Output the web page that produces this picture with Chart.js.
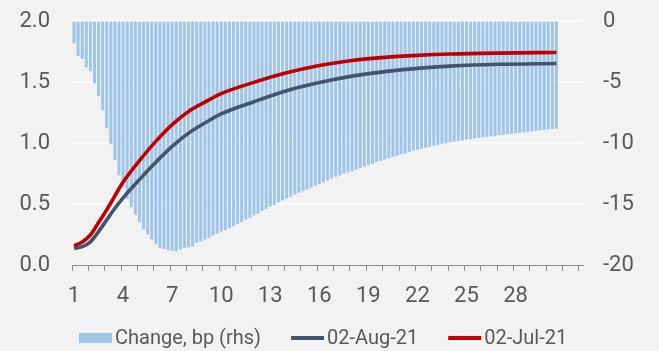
<!DOCTYPE html>
<html>
<head>
<meta charset="utf-8">
<script src="https://cdn.jsdelivr.net/npm/chart.js@4/dist/chart.umd.min.js"></script>
<style>
  html, body { margin: 0; padding: 0; background: #f2f2f2; }
  canvas { display: block; }
</style>
</head>
<body>
<canvas id="curve" width="659" height="351"></canvas>
<script>
// Maturities (years), quarterly steps
const maturity = [
  1, 1.25, 1.5, 1.75, 2, 2.25, 2.5, 2.75, 3, 3.25, 3.5, 3.75,
  4, 4.25, 4.5, 4.75, 5, 5.25, 5.5, 5.75, 6, 6.25, 6.5, 6.75,
  7, 7.25, 7.5, 7.75, 8, 8.25, 8.5, 8.75, 9, 9.25, 9.5, 9.75,
  10, 10.25, 10.5, 10.75, 11, 11.25, 11.5, 11.75, 12, 12.25, 12.5, 12.75,
  13, 13.25, 13.5, 13.75, 14, 14.25, 14.5, 14.75, 15, 15.25, 15.5, 15.75,
  16, 16.25, 16.5, 16.75, 17, 17.25, 17.5, 17.75, 18, 18.25, 18.5, 18.75,
  19, 19.25, 19.5, 19.75, 20, 20.25, 20.5, 20.75, 21, 21.25, 21.5, 21.75,
  22, 22.25, 22.5, 22.75, 23, 23.25, 23.5, 23.75, 24, 24.25, 24.5, 24.75,
  25, 25.25, 25.5, 25.75, 26, 26.25, 26.5, 26.75, 27, 27.25, 27.5, 27.75,
  28, 28.25, 28.5, 28.75, 29, 29.25, 29.5, 29.75, 30, 30.25, 30.5
];

// Change between the two curves, bp (right axis)
const changeBp = [
  -1.84, -2.88, -3.10, -3.79, -4.11, -5.12, -6.16, -7.31, -8.78, -10.10, -11.40, -12.64,
  -13.67, -14.58, -15.26, -15.89, -16.49, -17.09, -17.50, -17.90, -18.27, -18.60, -18.68, -18.80,
  -18.84, -18.87, -18.73, -18.62, -18.54, -18.46, -18.18, -18.07, -17.90, -17.77, -17.55, -17.44,
  -17.25, -17.15, -16.98, -16.82, -16.62, -16.49, -16.27, -16.13, -15.94, -15.80, -15.56, -15.40,
  -15.20, -15.07, -14.85, -14.71, -14.55, -14.41, -14.22, -14.08, -13.95, -13.81, -13.67, -13.51,
  -13.38, -13.24, -13.07, -12.91, -12.77, -12.66, -12.52, -12.42, -12.31, -12.18, -12.07, -11.95,
  -11.82, -11.70, -11.57, -11.46, -11.35, -11.24, -11.13, -11.05, -10.94, -10.86, -10.75, -10.64,
  -10.56, -10.48, -10.39, -10.31, -10.23, -10.18, -10.10, -10.02, -9.96, -9.90, -9.85, -9.79,
  -9.73, -9.68, -9.63, -9.58, -9.53, -9.49, -9.45, -9.40, -9.36, -9.32, -9.28, -9.24,
  -9.20, -9.16, -9.12, -9.08, -9.04, -9.00, -8.96, -8.93, -8.89, -8.86, -8.82
];

// Curve levels (left axis)
const curveMaturity = [1, 1.5, 2, 2.5, 3, 3.5, 4, 5, 6, 7, 8, 9, 10, 12, 14, 16, 18, 20, 22, 24, 27, 30.5];
const curveAug = [0.137, 0.150, 0.190, 0.274, 0.370, 0.465, 0.550, 0.700, 0.842, 0.972, 1.081, 1.164,
                  1.238, 1.338, 1.428, 1.495, 1.548, 1.585, 1.612, 1.630, 1.645, 1.652];
const curveJul = [0.157, 0.189, 0.246, 0.348, 0.452, 0.567, 0.680, 0.855, 1.013, 1.150, 1.259, 1.335,
                  1.405, 1.497, 1.575, 1.635, 1.676, 1.702, 1.718, 1.729, 1.737, 1.742];

const leftTicks = [0, 0.5, 1.0, 1.5, 2.0];
const rightTicks = [-20, -15, -10, -5, 0];
const xLabelYears = [1, 4, 7, 10, 13, 16, 19, 22, 25, 28];

const TEXT = '#595959';
const BAR = 'rgba(150,192,231,0.9)';
const GREY = '#44546A';
const RED = '#C00000';
const FONT = 'Roboto';
const CLEAR = 'rgba(0,0,0,0)';

// Legend row drawn under the axis
const legendRow = {
  id: 'legendRow',
  afterDraw(chart) {
    const ctx = chart.ctx;
    const y = 338;
    const swW = 33, gapText = 3, gapItem = 30;
    ctx.save();
    ctx.font = '20px ' + FONT;
    let x = chart.chartArea.left + 7;
    chart.data.datasets.forEach(ds => {
      const isLine = ds.type === 'line';
      if (!isLine) {
        ctx.fillStyle = ds.backgroundColor;
        ctx.fillRect(x, y - 5, swW, 10);
      } else {
        ctx.strokeStyle = ds.borderColor;
        ctx.lineWidth = 4;
        ctx.beginPath();
        ctx.moveTo(x, y);
        ctx.lineTo(x + swW, y);
        ctx.stroke();
      }
      x += swW + gapText;
      ctx.fillStyle = TEXT;
      ctx.textBaseline = 'middle';
      ctx.textAlign = 'left';
      ctx.fillText(ds.label, x, y + 1);
      x += ctx.measureText(ds.label).width + gapItem;
    });
    ctx.restore();
  }
};

function build() {
  const ctx = document.getElementById('curve').getContext('2d');
  new Chart(ctx, {
    type: 'bar',
    data: {
      datasets: [
        {
          type: 'bar',
          label: 'Change, bp (rhs)',
          data: maturity.map((m, i) => ({ x: m, y: changeBp[i] })),
          backgroundColor: BAR,
          borderWidth: 0,
          categoryPercentage: 1.0,
          barPercentage: 0.74,
          yAxisID: 'y1',
          order: 3
        },
        {
          type: 'line',
          label: '02-Aug-21',
          data: curveMaturity.map((m, i) => ({ x: m, y: curveAug[i] })),
          borderColor: GREY,
          backgroundColor: GREY,
          borderWidth: 3.6,
          pointRadius: 0,
          cubicInterpolationMode: 'monotone',
          yAxisID: 'y',
          order: 2
        },
        {
          type: 'line',
          label: '02-Jul-21',
          data: curveMaturity.map((m, i) => ({ x: m, y: curveJul[i] })),
          borderColor: RED,
          backgroundColor: RED,
          borderWidth: 3.6,
          pointRadius: 0,
          cubicInterpolationMode: 'monotone',
          yAxisID: 'y',
          order: 1
        }
      ]
    },
    options: {
      responsive: false,
      animation: false,
      layout: { padding: { top: 21, bottom: 46, left: 0, right: 0 } },
      plugins: { legend: { display: false }, tooltip: { enabled: false } },
      scales: {
        x: {
          type: 'linear',
          offset: false,
          min: 0.875,
          max: 32.125,
          afterBuildTicks(scale) {
            const t = [];
            for (let k = 0; k <= 31; k++) t.push({ value: 0.875 + k });
            scale.ticks = t;
          },
          afterFit(scale) { scale.height = 40; },
          ticks: {
            autoSkip: false,
            maxRotation: 0,
            padding: 12,
            labelOffset: 2,
            color: TEXT,
            font: { family: FONT, size: 22 },
            callback(value) {
              const yr = Math.round(value + 0.125);
              return xLabelYears.includes(yr) ? String(yr) : '';
            }
          },
          grid: {
            offset: false,
            drawOnChartArea: false,
            drawTicks: true,
            tickLength: 6,
            color: '#8c8c8c',
            lineWidth: 1
          },
          border: { display: true, color: '#8c8c8c', width: 1 }
        },
        y: {
          position: 'left',
          min: 0,
          max: 2,
          afterBuildTicks(scale) { scale.ticks = leftTicks.map(v => ({ value: v })); },
          afterFit(scale) { scale.width = 72; },
          ticks: {
            padding: 2,
            color: TEXT,
            font: { family: FONT, size: 22 },
            callback: v => v.toFixed(1)
          },
          grid: {
            drawTicks: true,
            tickLength: 20,
            tickColor: CLEAR,
            lineWidth: 1.6,
            color: c => (c.tick && c.tick.value === 0 ? CLEAR : '#ffffff')
          },
          border: { display: false }
        },
        y1: {
          position: 'right',
          min: -20,
          max: 0,
          afterBuildTicks(scale) { scale.ticks = rightTicks.map(v => ({ value: v })); },
          afterFit(scale) { scale.width = 76; },
          ticks: {
            padding: 2,
            color: TEXT,
            font: { family: FONT, size: 22 },
            callback: v => String(v)
          },
          grid: { drawOnChartArea: false, drawTicks: true, tickLength: 18, tickColor: CLEAR },
          border: { display: false }
        }
      }
    },
    plugins: [legendRow]
  });
}

document.fonts.load('22px ' + FONT).then(build, build);
</script>
</body>
</html>
